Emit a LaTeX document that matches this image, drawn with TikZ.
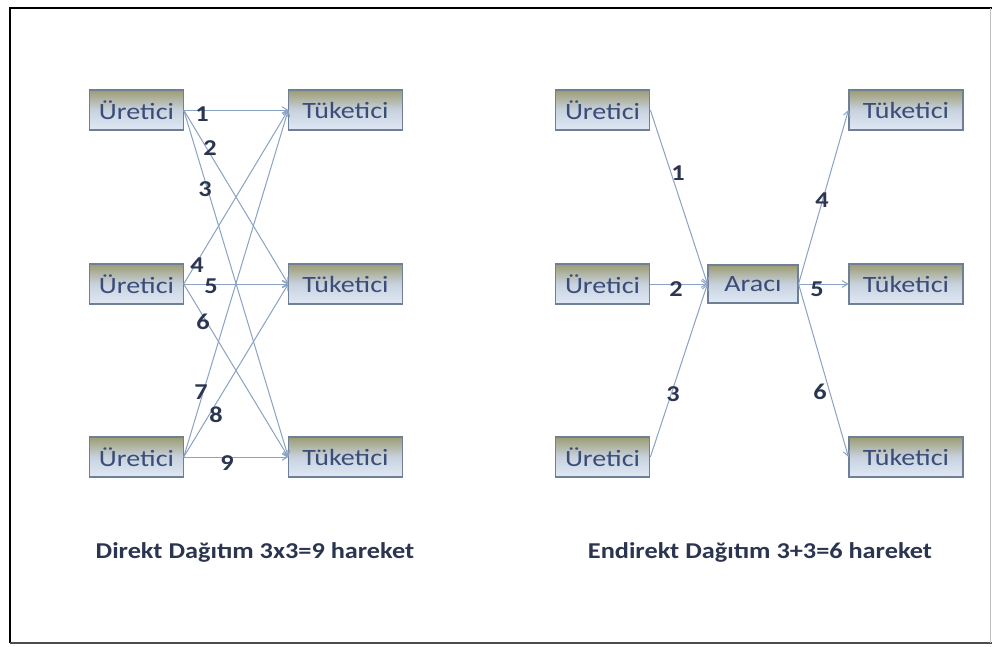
\documentclass[tikz,border=0pt]{standalone}
\usepackage{fontspec}
\setmainfont{Carlito}
\newfontfamily\boxfont[FakeStretch=1.2]{Carlito}
\newfontfamily\capfont[FakeStretch=1.16]{Carlito}
\usetikzlibrary{arrows.meta}
\definecolor{boxtxt}{HTML}{3A4C78}
\definecolor{numtxt}{HTML}{2B3550}
\definecolor{edgec}{HTML}{8AA2C4}
\definecolor{boxline}{HTML}{6F7F95}
\definecolor{boxtop}{HTML}{9C9C72}
\definecolor{boxmid}{HTML}{C8D2DE}
\definecolor{boxbot}{HTML}{E0E8F6}
\tikzset{
  pbox/.style={draw=boxline, line width=0.8pt, top color=boxtop, bottom color=boxbot, middle color=boxmid,
    minimum height=30pt, inner sep=0pt, text=boxtxt, font=\boxfont\fontsize{17.5}{19}\selectfont},
  conn/.style={draw=edgec, line width=0.75pt, -{Straight Barb[length=4pt,width=5pt]}},
  num/.style={text=numtxt, font=\capfont\bfseries\fontsize{17}{19}\selectfont, inner sep=0pt},
  captxt/.style={text=numtxt, font=\capfont\bfseries\fontsize{17}{19}\selectfont, inner sep=0pt}
}
\begin{document}
\begin{tikzpicture}[x=0.75pt,y=-0.75pt]
\useasboundingbox (0,0) rectangle (992,646);
\fill[white] (0,0) rectangle (992,646);
% frame
\draw[line width=2.2pt, black] (10,643) -- (10,8) -- (992,8);
\draw[line width=1.5pt, black!70] (10,643) -- (992,643);
\draw[line width=0.6pt, black!25] (990,8) -- (990,643);

% left diagram
\node[pbox, minimum width=70pt] (u1) at (136.5,110) {Üretici};
\node[pbox, minimum width=70pt] (u2) at (136.5,284) {Üretici};
\node[pbox, minimum width=70pt] (u3) at (136.5,457) {Üretici};
\node[pbox, minimum width=85pt] (t1) at (345.5,110) {Tüketici};
\node[pbox, minimum width=85pt] (t2) at (345.5,284) {Tüketici};
\node[pbox, minimum width=85pt] (t3) at (345.5,457) {Tüketici};

\foreach \i in {1,2,3}{
  \foreach \j in {1,2,3}{
    \draw[conn] (u\i.east) -- (t\j.west);
  }
}
\node[num] (n1) at (202,114) {1};
\node[num] (n2) at (210,148) {2};
\node[num] (n3) at (205,189) {3};
\node[num] (n4) at (197,265) {4};
\node[num] (n5) at (211,286) {5};
\node[num] (n6) at (203,322) {6};
\node[num] (n7) at (201,392) {7};
\node[num] (n8) at (216,415) {8};
\node[num] (n9) at (227,463) {9};

% right diagram
\node[pbox, minimum width=71pt] (r1) at (602.5,110) {Üretici};
\node[pbox, minimum width=71pt] (r2) at (602.5,284) {Üretici};
\node[pbox, minimum width=71pt] (r3) at (602.5,457) {Üretici};
\node[pbox, minimum width=67.5pt, minimum height=28.5pt] (a) at (753,284) {Aracı};
\node[pbox, minimum width=85.5pt] (s1) at (906,110) {Tüketici};
\node[pbox, minimum width=85.5pt] (s2) at (906,284) {Tüketici};
\node[pbox, minimum width=85.5pt] (s3) at (906,457) {Tüketici};

\foreach \i in {1,2,3}{
  \draw[conn] (r\i.east) -- (a.west);
  \draw[conn] (a.east) -- (s\i.west);
}
\node[num] (m1) at (678,173) {1};
\node[num] (m2) at (676,289) {2};
\node[num] (m3) at (673,394) {3};
\node[num] (m4) at (822,200) {4};
\node[num] (m5) at (817,289) {5};
\node[num] (m6) at (820,392) {6};

% captions
\node[captxt] (c1) at (255,552) {Direkt Dağıtım 3x3=9 hareket};
\node[captxt] (c2) at (760,552) {Endirekt Dağıtım 3+3=6 hareket};
\end{tikzpicture}
\end{document}
